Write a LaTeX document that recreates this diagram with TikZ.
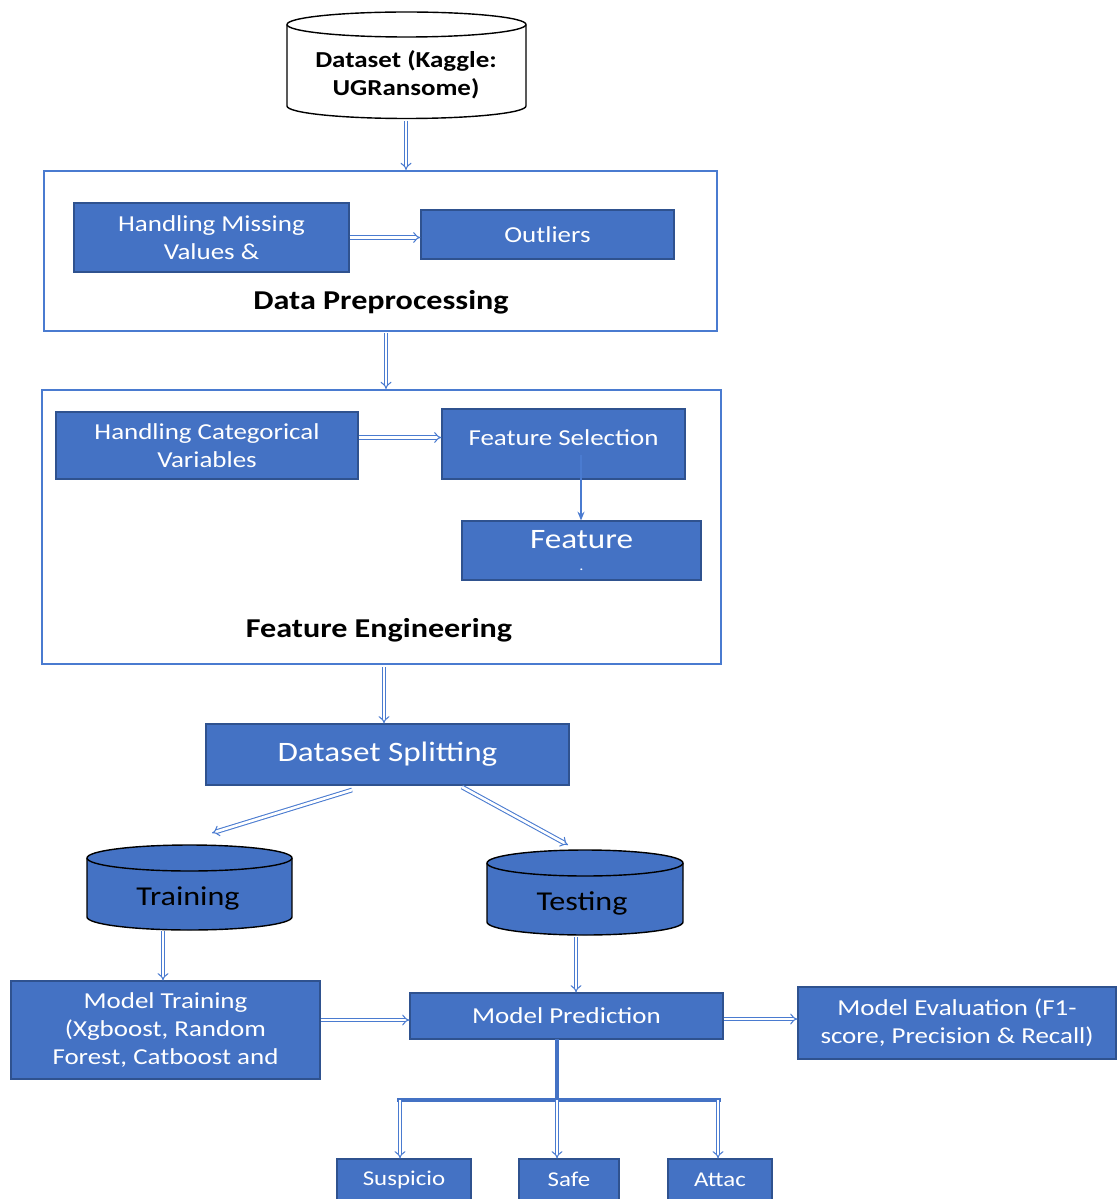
\documentclass[tikz,border=0pt]{standalone}
\usepackage{fontspec}
\setmainfont{Carlito}[FakeStretch=1.18]
\usetikzlibrary{arrows.meta}
\definecolor{blu}{HTML}{4472C4}
\definecolor{bdr}{HTML}{2F528F}
\definecolor{lin}{HTML}{4A7BD0}
\newcommand\drawcyl[7]{%
  \filldraw[cylline, fill=#7] (#1,#3) -- (#1,#4)
    arc[start angle=180,end angle=360,x radius=#5,y radius=#6] -- (#2,#3)
    arc[start angle=0,end angle=180,x radius=#5,y radius=#6] -- cycle;
  \draw[cylline] (#1,#3) arc[start angle=180,end angle=360,x radius=#5,y radius=#6];}
\tikzset{
  sz/.style 2 args={minimum width=#1*0.02cm, minimum height=#2*0.02cm},
  bbox/.style={draw=bdr, fill=blu, text=white, rectangle, inner sep=1pt, align=center, line width=0.6pt, font=\fontsize{13}{16}\selectfont},
  frame/.style={draw=lin, fill=white, rectangle, inner sep=0pt, line width=1pt},
  lbl/.style={text=black, font=\fontsize{15.5}{18}\selectfont\bfseries, inner sep=0pt},
  cyltext/.style={text=black, inner sep=0pt, align=center},
  cylline/.style={line width=0.8pt},
  darr/.style={draw=lin, double=white, line width=0.6pt, double distance=1.5pt, -{Implies}},
  sarr/.style={draw=lin, line width=1pt, -{Stealth[length=5pt,width=4pt]}},
  bar/.style={draw=blu, line width=1.8pt},
}
\begin{document}
\begin{tikzpicture}[x=0.02cm, y=-0.02cm]
\useasboundingbox (0,0) rectangle (1118,1199);
\fill[white] (0,0) rectangle (1118,1199);

% Dataset cylinder
\drawcyl{287}{526}{24.5}{106}{2.39cm}{0.25cm}{white}
\node[cyltext, font=\fontsize{13}{16}\selectfont\bfseries] (ds) at (406,75) {Dataset (Kaggle:\\UGRansome)};
\coordinate (dsb) at (406,121);

% Data preprocessing
\node[frame, sz={673}{160}] (pre) at (380.5,251) {};
\node[bbox, sz={275}{69}] (hmv) at (211.5,237.5) {Handling Missing\\Values \&};
\node[bbox, sz={253}{49}] (out) at (547.5,234.5) {Outliers};
\node[lbl] (prel) at (381,302) {Data Preprocessing};
\draw[darr] (hmv.east) -- (out.west |- hmv.east);

% Feature engineering
\node[frame, sz={679}{274}] (fe) at (381.5,527) {};
\node[bbox, sz={302}{67}] (hcv) at (207,445.5) {Handling Categorical\\Variables};
\node[bbox, sz={243}{70}] (fs) at (563.5,444) {\raisebox{7pt}{Feature Selection}};
\node[bbox, sz={239}{59}, font=\fontsize{16}{17}\selectfont] (feat) at (581.5,550.5) {Feature\\[-5pt]{\fontsize{8}{8}\selectfont .}};
\node[lbl] (fel) at (379,630) {Feature Engineering};
\draw[darr] ([yshift=0.16cm]hcv.east) -- ([yshift=0.16cm]hcv.east -| fs.west);
\coordinate (fsin) at (581,455);
\draw[sarr] (fsin) -- (fsin |- feat.north);

% arrows between stages
\draw[darr] (dsb) -- (dsb |- pre.north);
\coordinate (preb) at (386,333);
\draw[darr] (preb) -- (preb |- fe.north);

% Dataset splitting
\node[bbox, sz={363}{61}, font=\fontsize{16}{19}\selectfont] (split) at (387.5,754.5) {Dataset Splitting};
\coordinate (feb) at (384,667);
\draw[darr] (feb) -- (feb |- split.north);

% Training / Testing cylinders
\drawcyl{87}{292}{858}{917}{2.05cm}{0.26cm}{blu}
\drawcyl{487}{683}{863}{922}{1.96cm}{0.26cm}{blu}
\node[cyltext, font=\fontsize{15.5}{18}\selectfont] (trn) at (188,898) {Training};
\node[cyltext, font=\fontsize{15.5}{18}\selectfont] (tst) at (582,903) {Testing};
\coordinate (s1) at (352,790);
\coordinate (t1) at (212,833);
\coordinate (s2) at (462,787);
\coordinate (t2) at (568,845);
\draw[darr] (s1) -- (t1);
\draw[darr] (s2) -- (t2);
\coordinate (trnb) at (163,931);
\coordinate (tstb) at (576,937);

% Model boxes
\node[bbox, sz={309}{98}] (mt) at (165.5,1030) {Model Training\\(Xgboost, Random\\Forest, Catboost and};
\node[bbox, sz={313}{46}] (mp) at (566.5,1016) {Model Prediction};
\node[bbox, sz={318}{72}] (me) at (957,1023) {Model Evaluation (F1-\\score, Precision \& Recall)};
\draw[darr] (trnb) -- (trnb |- mt.north);
\draw[darr] (tstb) -- (tstb |- mp.north);
\draw[darr] ([yshift=-0.08cm]mp.west -| mt.east) -- ([yshift=-0.08cm]mp.west);
\draw[darr] ([yshift=-0.06cm]mp.east) -- ([yshift=-0.06cm]mp.east -| me.west);

% Outcome boxes
\node[bbox, sz={134}{41}, font=\fontsize{12}{14}\selectfont] (sus) at (404,1179.5) {Suspicio};
\node[bbox, sz={100}{41}, font=\fontsize{12}{14}\selectfont] (safe) at (569,1179.5) {Safe};
\node[bbox, sz={104}{41}, font=\fontsize{12}{14}\selectfont] (att) at (720,1179.5) {Attac};
\coordinate (mpb) at (557,1039);
\coordinate (jn) at (557,1100);
\coordinate (b1) at (400,1100);
\coordinate (b2) at (557,1100);
\coordinate (b3) at (718,1100);
\draw[bar] (mpb) -- (jn);
\draw[bar] ([xshift=-0.06cm]b1) -- ([xshift=0.06cm]b3);
\draw[darr] (b1) -- (b1 |- sus.north);
\draw[darr] (b2) -- (b2 |- safe.north);
\draw[darr] (b3) -- (b3 |- att.north);
\end{tikzpicture}
\end{document}
